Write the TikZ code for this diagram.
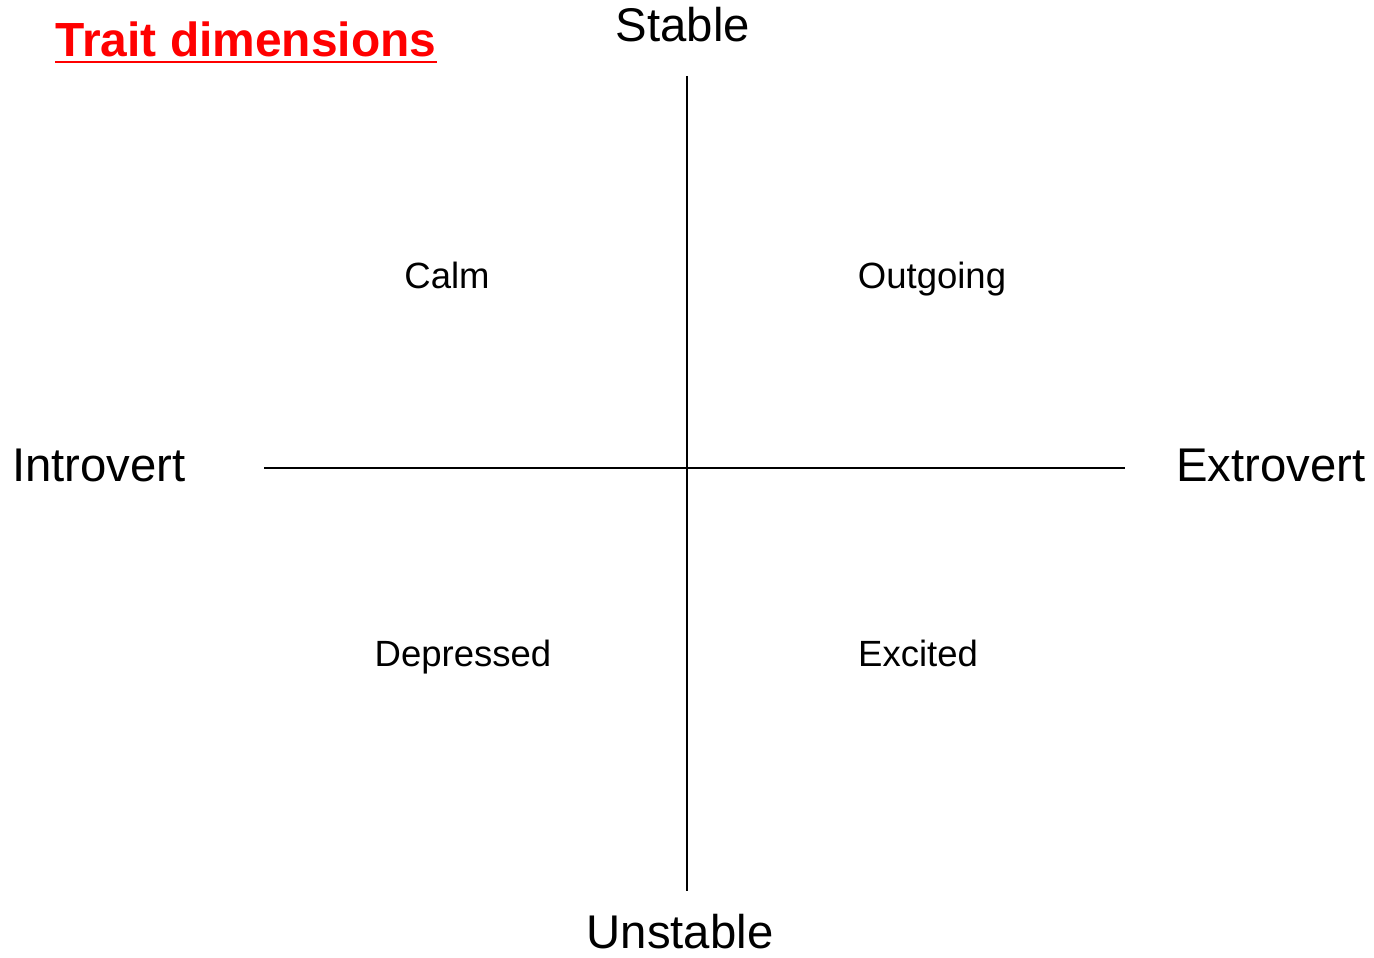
\documentclass[tikz,border=0pt]{standalone}
\usepackage{fontspec}
\setmainfont{Liberation Sans}
\begin{document}
\begin{tikzpicture}[x=1pt,y=-1pt,
  axislabel/.style={anchor=base,inner sep=0pt,font=\fontsize{47.3}{50}\selectfont},
  quad/.style={anchor=base,inner sep=0pt,font=\fontsize{36.5}{40}\selectfont},
  axis/.style={line width=1.5pt}]
\useasboundingbox (0,0) rectangle (1374,958);
\node[axislabel] (stable) at (683,42) {Stable};
\node[axislabel] (unstable) at (680,948) {Unstable};
\node[axislabel] (intro) at (99,481) {Introvert};
\node[axislabel] (extro) at (1271,481) {Extrovert};
\coordinate (top) at (687,76);
\coordinate (bot) at (687,891);
\coordinate (left) at (264,468);
\coordinate (right) at (1125,468);
\draw[axis] (top) -- (bot);
\draw[axis] (left) -- (right);
\node[quad] (calm) at (447,288) {Calm};
\node[quad] (out) at (932,288) {Outgoing};
\node[quad] (dep) at (463,666) {Depressed};
\node[quad] (exc) at (918,666) {Excited};
\node[anchor=base,inner sep=0pt,text=red,font=\fontsize{47.9}{50}\selectfont\bfseries] (title) at (246,57) {Trait dimensions};
\draw[red,line width=2.5pt] ([yshift=-5pt]title.base west) -- ([yshift=-5pt]title.base east);
\end{tikzpicture}
\end{document}
